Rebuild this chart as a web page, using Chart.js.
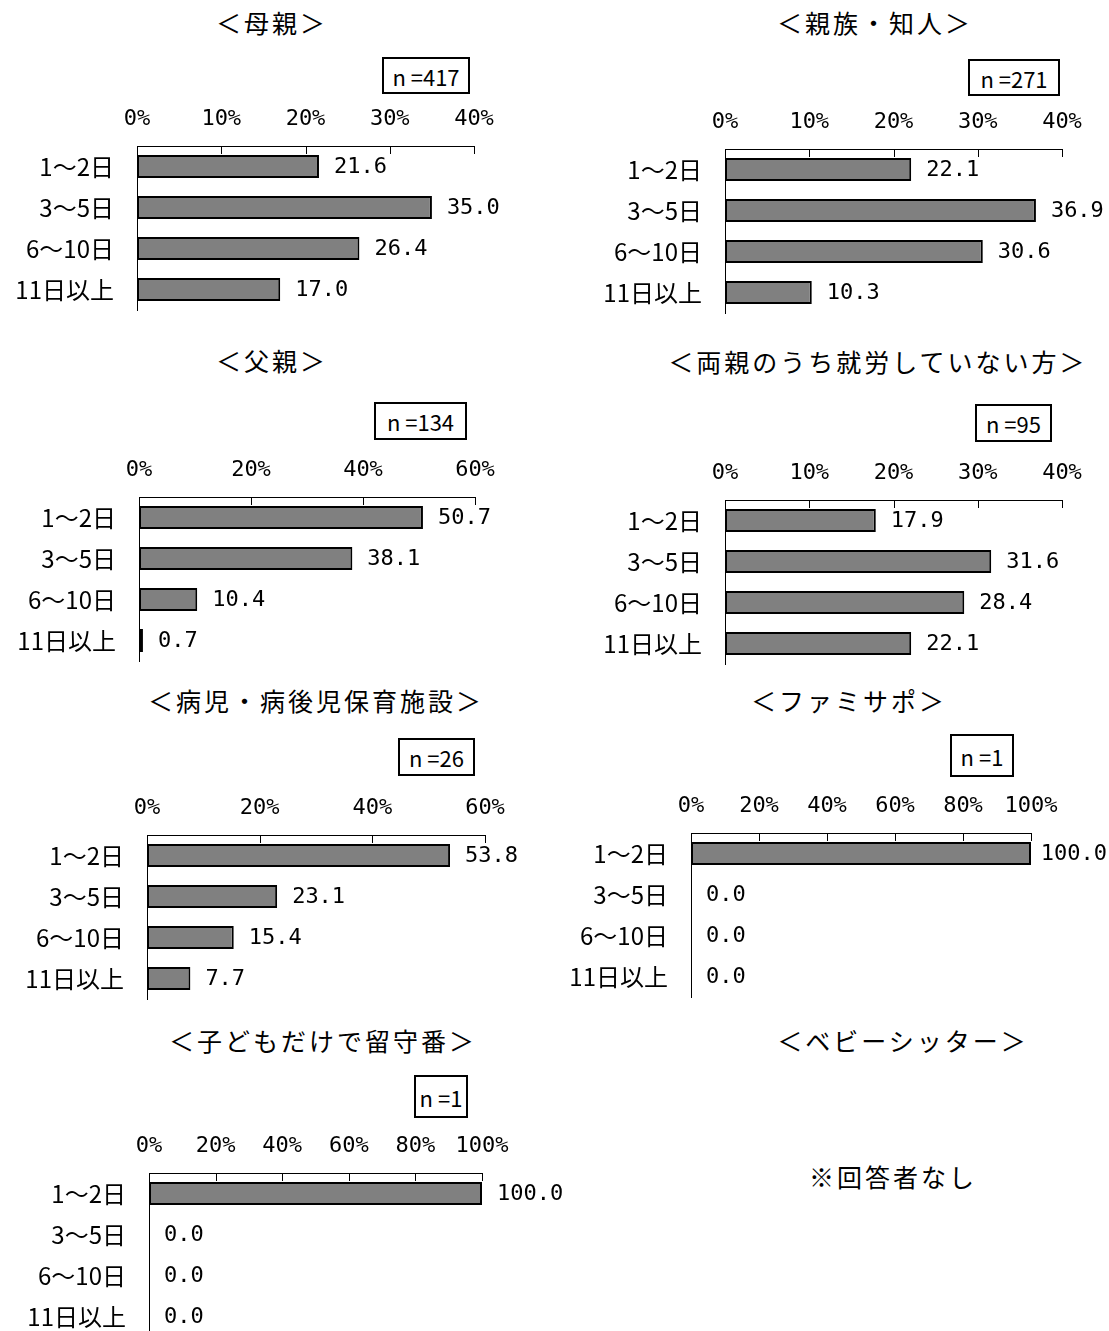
<!DOCTYPE html>
<html lang="ja">
<head>
<meta charset="utf-8">
<script src="https://cdn.jsdelivr.net/npm/chart.js@4/dist/chart.umd.min.js"></script>
<style>
  body { margin: 0; background: #fff; }
  #page { position: relative; width: 1109px; height: 1331px; overflow: hidden; background: #fff; }
  .title { position: absolute; transform: translate(-50%, -50%); white-space: nowrap;
    font-family: "Noto Sans CJK JP", sans-serif; font-size: 25px; letter-spacing: 3px; color: #000; }
  .nbox { position: absolute; box-sizing: border-box; border: 2px solid #000; display: flex;
    align-items: center; justify-content: center; font-family: "Noto Sans CJK JP", sans-serif;
    font-size: 22px; color: #000; white-space: pre; }
  canvas { position: absolute; }
</style>
</head>
<body>
<div id="page"></div>
<script>
// data
const categories = ["1～2日", "3～5日", "6～10日", "11日以上"];
const motherValues = [21.6, 35.0, 26.4, 17.0];
const relativeValues = [22.1, 36.9, 30.6, 10.3];
const fatherValues = [50.7, 38.1, 10.4, 0.7];
const nonWorkingParentValues = [17.9, 31.6, 28.4, 22.1];
const sickChildCareValues = [53.8, 23.1, 15.4, 7.7];
const famisapoValues = [100.0, 0.0, 0.0, 0.0];
const childAloneValues = [100.0, 0.0, 0.0, 0.0];
const ticks40 = [0, 10, 20, 30, 40];
const ticks60 = [0, 20, 40, 60];
const ticks100 = [0, 20, 40, 60, 80, 100];
const sampleSizes = { mother: 417, relative: 271, father: 134, nonWorking: 95, sickCare: 26, famisapo: 1, childAlone: 1 };

const page = document.getElementById("page");

// inward tick marks on the top axis
const innerTicks = {
  id: "innerTicks",
  afterDraw(chart) {
    const xs = chart.scales.x;
    const top = chart.chartArea.top;
    const ctx = chart.ctx;
    ctx.save();
    ctx.strokeStyle = "#000";
    ctx.lineWidth = 1;
    ctx.beginPath();
    xs.ticks.forEach((t, i) => {
      const px = Math.round(xs.getPixelForTick(i)) + 0.5;
      ctx.moveTo(px, top);
      ctx.lineTo(px, top + 8);
    });
    ctx.stroke();
    ctx.restore();
  }
};

const valueLabels = {
  id: "valueLabels",
  afterDatasetsDraw(chart) {
    const ctx = chart.ctx;
    const xs = chart.scales.x;
    const meta = chart.getDatasetMeta(0);
    ctx.save();
    ctx.font = '22px "DejaVu Sans Mono"';
    ctx.fillStyle = "#000";
    ctx.textBaseline = "middle";
    meta.data.forEach((bar, i) => {
      const v = chart.data.datasets[0].data[i];
      const text = v.toFixed(1);
      const w = ctx.measureText(text).width;
      let x = xs.getPixelForValue(v) + 15;
      if (x + w > chart.width - 2) x = chart.width - 2 - w;
      ctx.fillText(text, x, bar.y + 1);
    });
    ctx.restore();
  }
};

function addTitle(text, cx, cy) {
  const d = document.createElement("div");
  d.className = "title";
  d.textContent = text;
  d.style.left = cx + "px";
  d.style.top = cy + "px";
  page.appendChild(d);
}

function addNBox(n, l, t, r, b) {
  const d = document.createElement("div");
  d.className = "nbox";
  d.textContent = "n =" + n;
  d.style.left = l + "px";
  d.style.top = t + "px";
  d.style.width = (r - l) + "px";
  d.style.height = (b - t) + "px";
  page.appendChild(d);
}

function addChart(values, tickList, box) {
  const axisW = box.left - box.colLeft;
  const axisH = 50;
  const cvLeft = box.colLeft;
  const cvTop = box.top - axisH;
  const cvW = box.colRight - cvLeft;
  const cvH = axisH + 164 + 2;
  const cv = document.createElement("canvas");
  cv.width = cvW;
  cv.height = cvH;
  cv.style.left = cvLeft + "px";
  cv.style.top = cvTop + "px";
  cv.style.width = cvW + "px";
  cv.style.height = cvH + "px";
  page.appendChild(cv);

  const maxV = tickList[tickList.length - 1];
  new Chart(cv, {
    type: "bar",
    data: {
      labels: categories,
      datasets: [{
        data: values,
        backgroundColor: "#808080",
        borderColor: "#000",
        borderWidth: 2,
        borderSkipped: false,
        barPercentage: 0.56,
        categoryPercentage: 1.0
      }]
    },
    options: {
      indexAxis: "y",
      responsive: false,
      maintainAspectRatio: false,
      animation: false,
      layout: { autoPadding: false, padding: { left: 0, top: 0, right: cvW - (box.right - cvLeft), bottom: 2 } },
      plugins: { legend: { display: false }, tooltip: { enabled: false } },
      scales: {
        x: {
          position: "top",
          min: 0,
          max: maxV,
          afterBuildTicks: (s) => { s.ticks = tickList.map((v) => ({ value: v })); },
          afterFit: (s) => { s.height = axisH; s.paddingLeft = 0; s.paddingRight = 0; },
          grid: { display: false, drawTicks: false },
          border: { display: true, color: "#000", width: 1 },
          ticks: {
            padding: 14,
            color: "#000",
            font: { family: "DejaVu Sans Mono", size: 22 },
            callback: (v) => v + "%"
          }
        },
        y: {
          afterFit: (s) => { s.width = axisW; s.paddingTop = 0; s.paddingBottom = 0; },
          grid: { display: false, drawTicks: false },
          border: { display: true, color: "#000", width: 1 },
          ticks: {
            padding: 23,
            color: "#000",
            font: { family: "Noto Sans CJK JP", size: 24 }
          }
        }
      }
    },
    plugins: [innerTicks, valueLabels]
  });
}

// left column
addTitle("＜母親＞", 272, 22);
addNBox(sampleSizes.mother, 382, 57, 470, 94);
addChart(motherValues, ticks40, { colLeft: 0, colRight: 575, left: 137, right: 474, top: 146 });

addTitle("＜父親＞", 272, 360);
addNBox(sampleSizes.father, 374, 402, 467, 440);
addChart(fatherValues, ticks60, { colLeft: 0, colRight: 575, left: 139, right: 475, top: 497 });

addTitle("＜病児・病後児保育施設＞", 316, 700);
addNBox(sampleSizes.sickCare, 398, 738, 475, 776);
addChart(sickChildCareValues, ticks60, { colLeft: 0, colRight: 575, left: 147, right: 485, top: 835 });

addTitle("＜子どもだけで留守番＞", 323, 1040);
addNBox(sampleSizes.childAlone, 414, 1075, 468, 1118);
addChart(childAloneValues, ticks100, { colLeft: 0, colRight: 575, left: 149, right: 482, top: 1173 });

// right column
addTitle("＜親族・知人＞", 875, 22);
addNBox(sampleSizes.relative, 968, 59, 1060, 96);
addChart(relativeValues, ticks40, { colLeft: 575, colRight: 1109, left: 725, right: 1062, top: 149 });

addTitle("＜両親のうち就労していない方＞", 878, 361);
addNBox(sampleSizes.nonWorking, 975, 404, 1052, 442);
addChart(nonWorkingParentValues, ticks40, { colLeft: 575, colRight: 1109, left: 725, right: 1062, top: 500 });

addTitle("＜ファミサポ＞", 849, 700);
addNBox(sampleSizes.famisapo, 950, 734, 1014, 777);
addChart(famisapoValues, ticks100, { colLeft: 560, colRight: 1109, left: 691, right: 1031, top: 833 });

addTitle("＜ベビーシッター＞", 903, 1040);
addTitle("※回答者なし", 893, 1176);
</script>
</body>
</html>
